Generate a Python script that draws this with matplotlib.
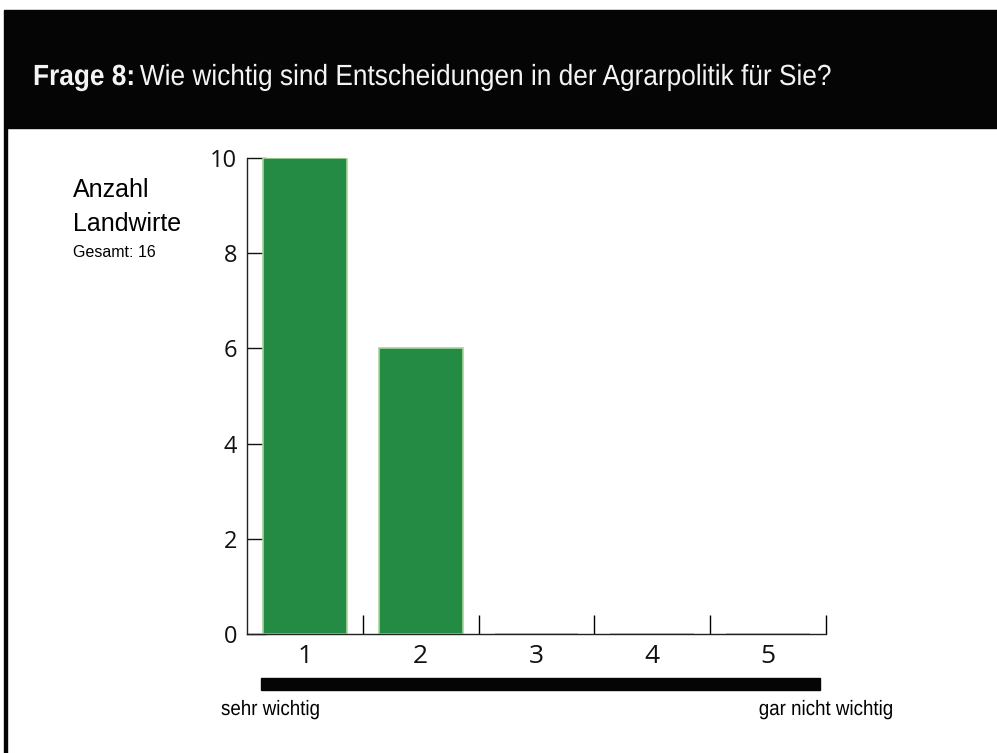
import matplotlib
matplotlib.use('Agg')
import matplotlib.pyplot as plt
from matplotlib.patches import Rectangle, PathPatch
from matplotlib.textpath import TextPath
from matplotlib.font_manager import FontProperties
from matplotlib.transforms import Affine2D

# survey answers: rating 1 (sehr wichtig) .. 5 (gar nicht wichtig)
ratings = [1, 2, 3, 4, 5]
counts = [10, 6, 0, 0, 0]
y_ticks = [0, 2, 4, 6, 8, 10]
total = 16

W, H = 997, 753
DPI = 100
bar_green = '#248b45'
bar_edge = '#a8d49a'


def fx(x):
    return x / W


def fy(y):
    return 1 - y / H


def narrow_text(fig, x, y, s, size, weight='normal', squeeze=0.9,
                color='black', ha='left'):
    # slightly condensed Arial look: squeeze a Liberation Sans outline
    fp = FontProperties(family='Liberation Sans', weight=weight)
    tp = TextPath((0, 0), s, size=size, prop=fp)
    k = DPI / 72.0
    w = tp.get_extents().x1 * squeeze * k
    x0 = x if ha == 'left' else x - w
    tr = Affine2D().scale(squeeze * k, k).translate(x0, H - y)
    fig.add_artist(PathPatch(tp, transform=tr, color=color, lw=0))
    return x0 + w


fig = plt.figure(figsize=(W / DPI, H / DPI), dpi=DPI)
fig.patch.set_facecolor('white')

# black header band and left frame line
fig.add_artist(Rectangle((fx(4), fy(128)), 1 - fx(4), fy(10) - fy(128),
                         transform=fig.transFigure, color='#050505', zorder=0))
fig.add_artist(Rectangle((fx(4), 0), fx(2.5), fy(128),
                         transform=fig.transFigure, color='#050505', zorder=0))

x_end = narrow_text(fig, 33, 85, 'Frage 8:', 21, weight='bold', color='#f4f4f4')
narrow_text(fig, x_end, 85,
            ' Wie wichtig sind Entscheidungen in der Agrarpolitik für Sie?',
            21, color='#f4f4f4')

# bar chart
ax = fig.add_axes([fx(247), fy(634), fx(826) - fx(247), fy(158) - fy(634)])
ax.bar(ratings, counts, width=0.724, color=bar_green, edgecolor=bar_edge,
       linewidth=1.2, zorder=2)
ax.set_xlim(0.5, 5.5)
ax.set_ylim(0, 10)
for s in ['top', 'right']:
    ax.spines[s].set_visible(False)
for s in ['left', 'bottom']:
    ax.spines[s].set_linewidth(1.0)
    ax.spines[s].set_color('#222222')
ax.set_yticks(y_ticks)
ax.set_xticks(ratings)
ax.set_xticks([r + 0.5 for r in ratings], minor=True)
ax.tick_params(axis='y', direction='in', length=14, width=1.0, pad=7,
               labelsize=17, colors='#111111')
ax.tick_params(axis='x', which='major', length=0, pad=7, labelsize=19,
               colors='#111111')
ax.tick_params(axis='x', which='minor', direction='in', length=14, width=1.0)
for lab in ax.get_xticklabels() + ax.get_yticklabels():
    lab.set_family('Open Sans')

# axis caption
fig.text(fx(73), fy(197), 'Anzahl', fontsize=18, family='Liberation Sans')
fig.text(fx(73), fy(231), 'Landwirte', fontsize=18, family='Liberation Sans')
fig.text(fx(73), fy(257), 'Gesamt: %d' % total, fontsize=11.5,
         family='Liberation Sans')

# scale bar under the categories
fig.add_artist(Rectangle((fx(261), fy(690)), fx(820) - fx(261), fy(678) - fy(690),
                         transform=fig.transFigure, color='#050505'))
narrow_text(fig, 221, 715, 'sehr wichtig', 15)
narrow_text(fig, 892, 715, 'gar nicht wichtig', 15, ha='right')

plt.savefig('out.png', dpi=DPI)
